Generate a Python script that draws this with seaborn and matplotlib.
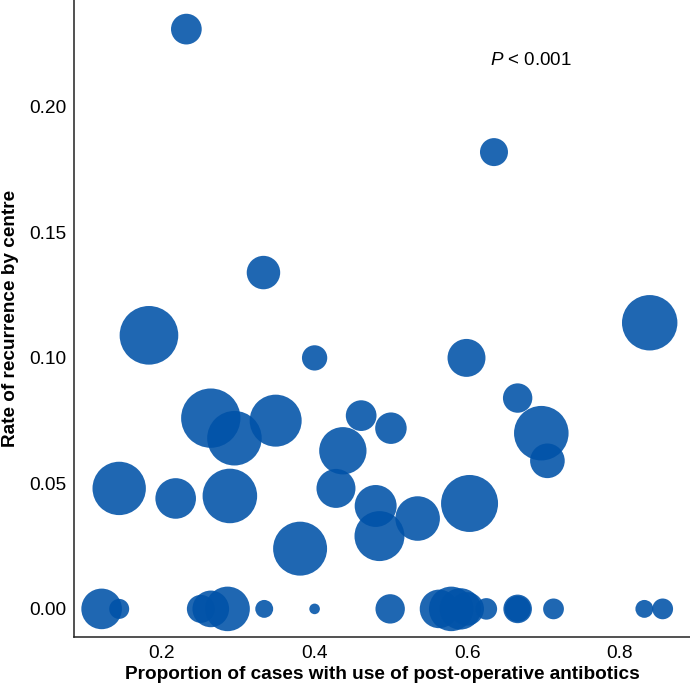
import numpy as np
import pandas as pd
import matplotlib
matplotlib.use('Agg')
import matplotlib.pyplot as plt
import seaborn as sns

# one entry per centre
prop_antibiotics = [0.232, 0.635, 0.333, 0.183, 0.400, 0.599, 0.839,
                    0.264, 0.295, 0.349, 0.144, 0.218, 0.289, 0.381,
                    0.461, 0.500, 0.437, 0.428, 0.480, 0.485, 0.535,
                    0.603, 0.666, 0.697, 0.705,
                    0.121, 0.144, 0.251, 0.264, 0.286, 0.334, 0.400,
                    0.499, 0.563, 0.579, 0.591, 0.600, 0.625, 0.666,
                    0.666, 0.713, 0.832, 0.856]
recurrence_rate = [0.231, 0.182, 0.134, 0.109, 0.100, 0.100, 0.114,
                   0.076, 0.068, 0.075, 0.048, 0.044, 0.045, 0.024,
                   0.077, 0.072, 0.063, 0.048, 0.041, 0.029, 0.036,
                   0.042, 0.084, 0.070, 0.059,
                   0.0, 0.0, 0.0, 0.0, 0.0, 0.0, 0.0,
                   0.0, 0.0, 0.0, 0.0, 0.0, 0.0, 0.0,
                   0.0, 0.0, 0.0, 0.0]
n_cases = [59, 49, 70, 215, 40, 90, 192,
           220, 186, 169, 178, 103, 186, 182,
           59, 62, 140, 95, 110, 156, 124,
           203, 54, 186, 75,
           103, 25, 49, 84, 124, 20, 7,
           54, 93, 124, 107, 70, 29, 51,
           42, 27, 20, 27]

df = pd.DataFrame({'prop': prop_antibiotics, 'rate': recurrence_rate, 'n': n_cases})

sns.set_theme(style='white')
plt.rcParams['font.family'] = ['Liberation Sans', 'DejaVu Sans']
plt.rcParams['text.color'] = 'black'
plt.rcParams['axes.labelcolor'] = 'black'
plt.rcParams['mathtext.fontset'] = 'custom'
plt.rcParams['mathtext.it'] = 'Liberation Sans:italic'
plt.rcParams['mathtext.rm'] = 'Liberation Sans'

DPI = 100
fig = plt.figure(figsize=(6.9, 6.87), dpi=DPI)
ax = fig.add_axes([74 / 690, 1 - 637 / 687, 616 / 690, 637 / 687])

# marker area in pt^2 proportional to number of cases
area_per_case = 4 * (2 * 72 / DPI) ** 2
sns.scatterplot(data=df, x='prop', y='rate', size='n',
                sizes=(0, area_per_case * df.n.max()), size_norm=(0, df.n.max()),
                color='#0052a8', alpha=0.88, linewidth=0, legend=False, ax=ax)

ax.set_xlim(0.0848, 0.8918)
ax.set_ylim(-0.0112, 0.2426)
ax.set_xticks([0.2, 0.4, 0.6, 0.8])
ax.set_xticklabels(['0.2', '0.4', '0.6', '0.8'])
ax.set_yticks([0.0, 0.05, 0.10, 0.15, 0.20])
ax.set_yticklabels(['0.00', '0.05', '0.10', '0.15', '0.20'])
ax.tick_params(direction='in', length=4.3, width=1, labelsize=13.8, pad=5.5,
               colors='black')
for side in ['top', 'right']:
    ax.spines[side].set_visible(False)
for side in ['left', 'bottom']:
    ax.spines[side].set_color('#222222')
    ax.spines[side].set_linewidth(1.1)

ax.set_xlabel('Proportion of cases with use of post-operative antibotics',
              fontsize=13.7, fontweight='bold', labelpad=3)
ax.set_ylabel('Rate of recurrence by centre', fontsize=13.7, fontweight='bold',
              labelpad=7)
ax.text(0.6835, 0.2183, r'$\mathit{P}$ < 0.001', fontsize=13.5, ha='center', va='center')

fig.savefig('out.png', dpi=DPI)
